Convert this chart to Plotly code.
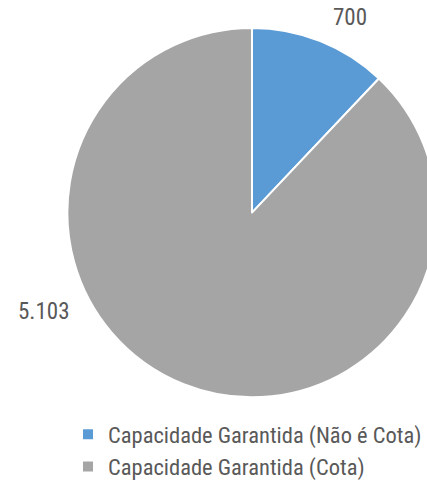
import plotly.graph_objects as go

# Guaranteed capacity split
labels = ["Capacidade Garantida (Não é Cota)", "Capacidade Garantida (Cota)"]
values = [700, 5103]
colors = ["#5B9BD5", "#A5A5A5"]

W, H = 445, 488
FONT = "Roboto, Open Sans, sans-serif"
TEXT = "#595959"


def fmt(v):
    return f"{v:,}".replace(",", ".")


def narrow(s):
    return f"<span style='font-stretch:condensed'>{s}</span>"


fig = go.Figure(
    go.Pie(
        labels=[narrow(s) for s in labels],
        values=values,
        marker=dict(colors=colors, line=dict(color="white", width=2)),
        sort=False,
        direction="clockwise",
        rotation=0,
        textinfo="none",
        hoverinfo="label+value",
        domain=dict(x=[67 / W, 437 / W], y=[90 / H, 460 / H]),
    )
)

# value labels placed beside their slices
label_pos = [(350, 18), (43, 312)]
for v, (px, py) in zip(values, label_pos):
    fig.add_annotation(
        x=px / W, y=1 - py / H, xref="paper", yref="paper",
        text=narrow(fmt(v)), showarrow=False,
        font=dict(family=FONT, size=23, color=TEXT),
        xanchor="center", yanchor="middle",
    )

fig.update_layout(
    width=W, height=H,
    margin=dict(l=0, r=0, t=0, b=0),
    paper_bgcolor="white",
    plot_bgcolor="white",
    showlegend=True,
    legend=dict(
        x=68 / W, y=1 - 414 / H, xanchor="left", yanchor="top",
        font=dict(family=FONT, size=22.5, color=TEXT),
        itemwidth=30,
    ),
)

fig.write_html("out.html")
